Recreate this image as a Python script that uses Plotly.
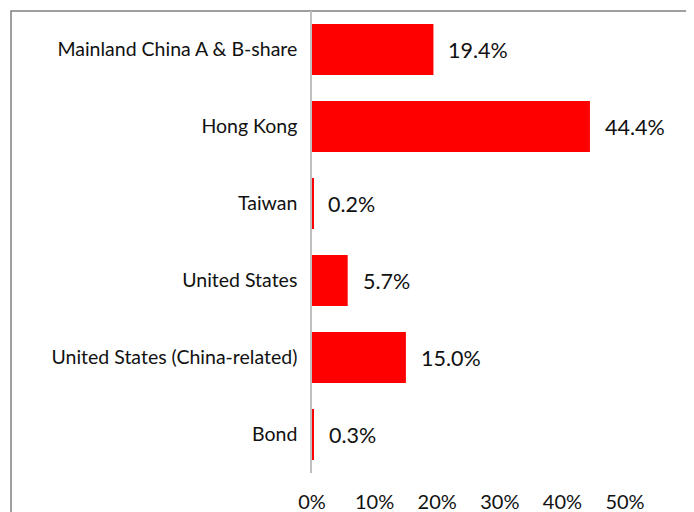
import plotly.graph_objects as go

categories = ["Mainland China A & B-share", "Hong Kong", "Taiwan", "United States",
              "United States (China-related)", "Bond"]
values = [19.4, 44.4, 0.2, 5.7, 15.0, 0.3]
x_ticks = [0, 10, 20, 30, 40, 50]
x_tick_labels = ["0%", "10%", "20%", "30%", "40%", "50%"]

FONT = "Lato"
W, H = 694, 512
L, R, T, B = 304, 77, 3, 47
pw = W - L - R

fig = go.Figure()
fig.add_trace(go.Bar(
    y=categories, x=values, orientation="h",
    marker=dict(color="#FF0000", line=dict(width=0)),
    width=0.66, hoverinfo="skip",
))

for c, v in zip(categories, values):
    fig.add_annotation(x=v, y=c, xref="x", yref="y", text=f"{v:.1f}%",
                       showarrow=False, xanchor="left", xshift=13,
                       font=dict(family=FONT, size=21.5, color="#111111"))

fig.add_shape(type="rect", xref="paper", yref="paper",
              x0=(3 - L) / pw, x1=(679 - L) / pw, y0=-0.3, y1=1.0,
              line=dict(color="#808080", width=1.5), layer="below")

fig.update_layout(
    width=W, height=H,
    margin=dict(l=L, r=R, t=T, b=B, pad=0),
    paper_bgcolor="white", plot_bgcolor="white",
    showlegend=False,
    xaxis=dict(range=[0, 50], tickvals=x_ticks, ticktext=x_tick_labels,
               showgrid=False, zeroline=False, showline=False, ticks="",
               ticklabelstandoff=15,
               tickfont=dict(family=FONT, size=20, color="#111111"),
               fixedrange=True),
    yaxis=dict(autorange="reversed", showgrid=False, zeroline=False,
               showline=True, linecolor="#BFBFBF", linewidth=1.5, ticks="",
               ticklabelstandoff=9,
               tickfont=dict(family=FONT, size=19.5, color="#111111"),
               fixedrange=True),
)

fig.write_html("out.html")
